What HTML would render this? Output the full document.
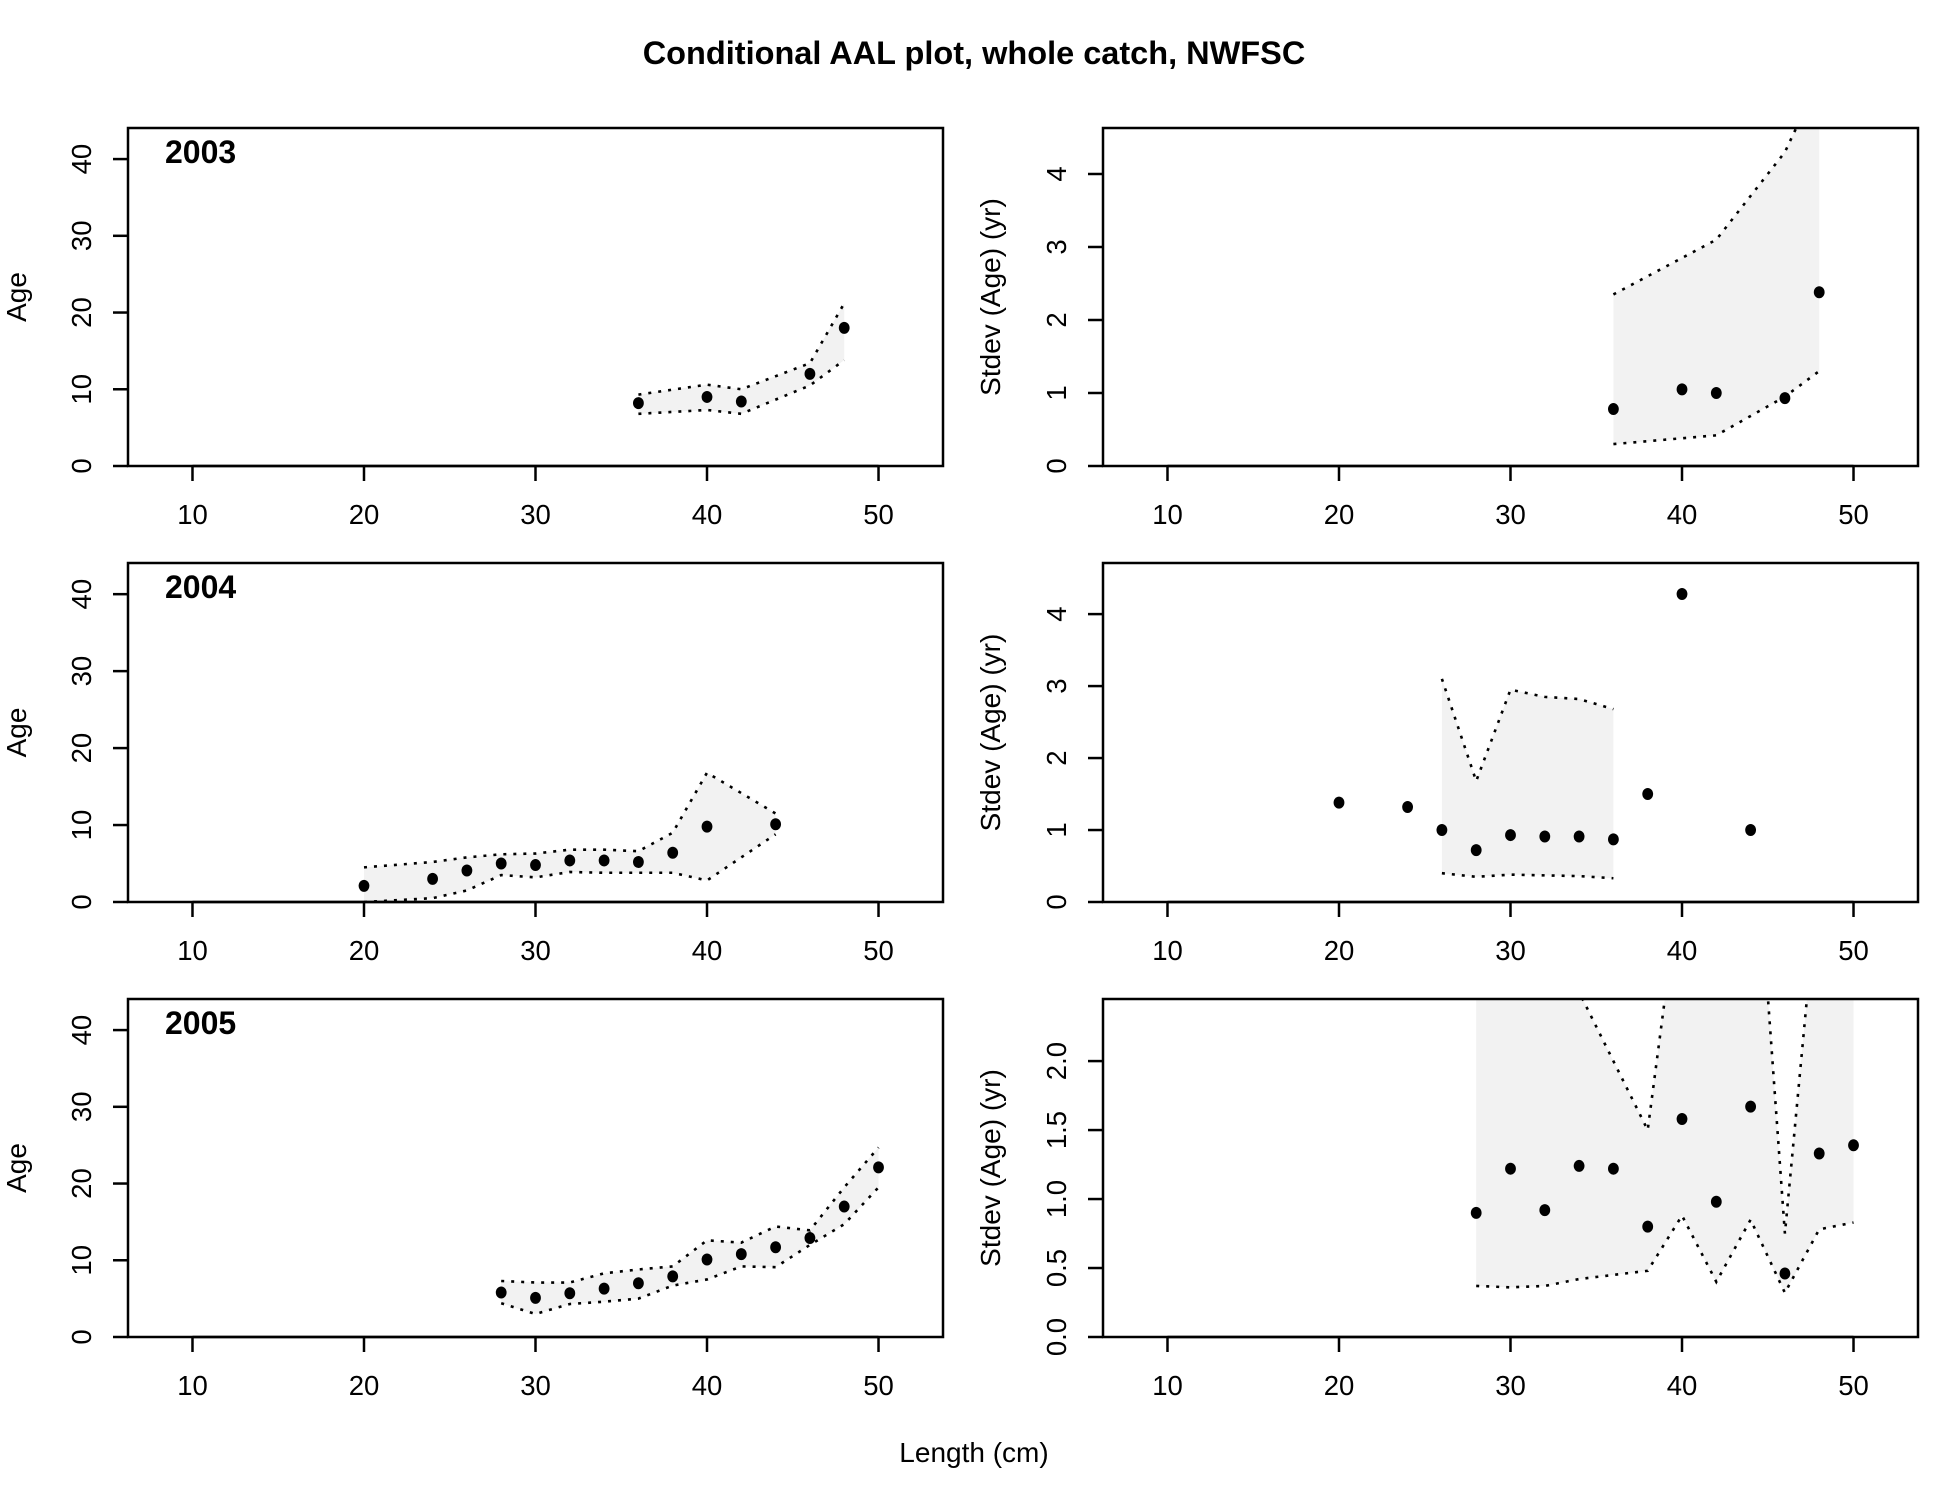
<!DOCTYPE html>
<html><head><meta charset="utf-8"><style>
html,body{margin:0;padding:0;background:#fff;}
svg{display:block;font-family:"Liberation Sans",Arial,sans-serif;}
</style></head><body>
<svg id="chart" width="1950" height="1500" viewBox="0 0 1950 1500" xmlns="http://www.w3.org/2000/svg">
<text x="974" y="64" text-anchor="middle" font-size="32.5" font-weight="bold">Conditional AAL plot, whole catch, NWFSC</text>
<text x="974" y="1462" text-anchor="middle" font-size="28">Length (cm)</text>
</svg>
<script>
// ---------- data ----------
const years = ["2003","2004","2005"];
const len03 = [36,40,42,46,48];
const age03 = [8.2,9,8.4,12,18];
const ageHi03 = [9.3,10.6,10.0,13.4,21.2];
const ageLo03 = [6.8,7.3,6.8,10.5,13.8];
const sd03 = [0.78,1.05,1.0,0.93,2.38];
const sdHi03 = [2.35,2.85,3.1,4.3,5.3];
const sdLo03 = [0.3,0.38,0.42,0.95,1.3];

const len04 = [20,24,26,28,30,32,34,36,38,40,44];
const age04 = [2.1,3,4.1,5,4.8,5.4,5.4,5.2,6.4,9.8,10.1];
const ageHi04 = [4.5,5.2,5.8,6.2,6.3,6.8,6.8,6.6,9,16.8,11.5];
const ageLo04 = [0,0.5,1.5,3.5,3.2,3.9,3.8,3.8,3.8,2.8,8.8];
const sd04 = [1.38,1.32,1.0,0.72,0.93,0.91,0.91,0.87,1.5,4.28,1.0];
const sdLen04 = [26,28,30,32,34,36];
const sdHi04 = [3.1,1.68,2.95,2.85,2.82,2.68];
const sdLo04 = [0.4,0.35,0.38,0.37,0.36,0.33];

const len05 = [28,30,32,34,36,38,40,42,44,46,48,50];
const age05 = [5.8,5.1,5.7,6.3,7,7.9,10.1,10.8,11.7,12.9,17,22.1];
const ageHi05 = [7.3,7.1,7.1,8.3,8.8,9.2,12.6,12.3,14.4,13.9,19.5,24.7];
const ageLo05 = [4.4,3,4.3,4.6,5,6.7,7.5,9.2,9.1,12,14.7,19.5];
const sd05 = [0.9,1.22,0.92,1.24,1.22,0.8,1.58,0.98,1.67,0.46,1.33,1.39];
const sdHi05 = [4,4,3.5,2.5,2.0,1.5,3.4,4,4.2,0.75,3.4,4];
const sdLo05 = [0.37,0.36,0.37,0.42,0.45,0.48,0.88,0.4,0.85,0.32,0.78,0.83];

const xTicks = [10,20,30,40,50];
const ageTicks = [0,10,20,30,40];
const sdTicks12 = [0,1,2,3,4];
const sdTicks3 = ["0.0","0.5","1.0","1.5","2.0"];

// ---------- drawing ----------
const svg = document.getElementById('chart');
const NS = "http://www.w3.org/2000/svg";
function mk(tag, attrs, parent){
  const e = document.createElementNS(NS, tag);
  for (const k in attrs) e.setAttribute(k, attrs[k]);
  (parent||svg).appendChild(e);
  return e;
}
const rowsY = [[128,466],[563,902],[999,1337]];
const colsX = [[128,943],[1103,1918]];
const XMIN = 6.24, XMAX = 53.76;

let clipId = 0;
function panel(col,row,ymax,yticks,ylab,xs,obs,ptsX,lo,hi,bandX,yearLabel){
  const [x0,x1] = colsX[col], [y0,y1] = rowsY[row];
  const sx = v => x0 + (v-XMIN)/(XMAX-XMIN)*(x1-x0);
  const sy = v => y1 - v/ymax*(y1-y0);
  const g = mk('g',{});
  
  
  const id = 'clip'+(clipId++);
  const cp = mk('clipPath',{id:id}, g);
  mk('rect',{x:x0,y:y0,width:x1-x0,height:y1-y0}, cp);
  const inner = mk('g',{'clip-path':'url(#'+id+')'}, g);
  let d = bandX.map((x,i)=>(i?'L':'M')+sx(x)+','+sy(hi[i])).join(' ');
  for (let i=bandX.length-1;i>=0;i--) d += ' L'+sx(bandX[i])+','+sy(lo[i]);
  const band = mk('path',{d:d+' Z',fill:'#f2f2f2',stroke:'none'}, inner);
  
  
  [hi,lo].forEach((arr,k)=>{
    const pl = mk('polyline',{points:bandX.map((x,i)=>sx(x)+','+sy(arr[i])).join(' '),fill:'none',stroke:'#000','stroke-width':2.6,'stroke-dasharray':'3 7','stroke-linecap':'butt'}, inner);
    
    
  });
  ptsX.forEach((x,i)=>{
    const c = mk('ellipse',{cx:sx(x),cy:sy(obs[i]),rx:5.4,ry:6,fill:'#000'}, inner);
    
    
  });
  mk('rect',{x:x0,y:y0,width:x1-x0,height:y1-y0,fill:'none',stroke:'#000','stroke-width':2.5}, g);
  mk('line',{x1:sx(10),x2:sx(50),y1:y1,y2:y1,stroke:'#000','stroke-width':2.5}, g);
  xTicks.forEach(t=>{
    mk('line',{x1:sx(t),x2:sx(t),y1:y1,y2:y1+15,stroke:'#000','stroke-width':2.5}, g);
    const tx = mk('text',{x:sx(t),y:y1+58,'text-anchor':'middle','font-size':27.5}, g);
    tx.textContent = t;
    
    
  });
  yticks.forEach(t=>{
    const v = parseFloat(t);
    mk('line',{x1:x0,x2:x0-15,y1:sy(v),y2:sy(v),stroke:'#000','stroke-width':2.5}, g);
    const lx = x0-37, ly = sy(v);
    const tx = mk('text',{x:lx,y:ly,'text-anchor':'middle','font-size':27.5,transform:'rotate(-90 '+lx+' '+ly+')'}, g);
    tx.textContent = t;
    
    
  });
  const ax = col? 1000:26, ay = (y0+y1)/2;
  const yl = mk('text',{x:ax,y:ay,'text-anchor':'middle','font-size':28,transform:'rotate(-90 '+ax+' '+ay+')'}, g);
  yl.textContent = ylab;
  
  
  if (yearLabel){
    const yt = mk('text',{x:165,y:y0+35,'font-size':32,'font-weight':'bold'}, g);
    yt.textContent = yearLabel;
    
    
  }
}
panel(0,0,44.05,ageTicks,"Age",len03,age03,len03,ageLo03,ageHi03,len03,years[0]);
panel(1,0,4.63,sdTicks12,"Stdev (Age) (yr)",len03,sd03,len03,sdLo03,sdHi03,len03,null);
panel(0,1,44.05,ageTicks,"Age",len04,age04,len04,ageLo04,ageHi04,len04,years[1]);
panel(1,1,4.71,sdTicks12,"Stdev (Age) (yr)",len04,sd04,len04,sdLo04,sdHi04,sdLen04,null);
panel(0,2,44.05,ageTicks,"Age",len05,age05,len05,ageLo05,ageHi05,len05,years[2]);
panel(1,2,2.45,sdTicks3,"Stdev (Age) (yr)",len05,sd05,len05,sdLo05,sdHi05,len05,null);
</script>
</body></html>
